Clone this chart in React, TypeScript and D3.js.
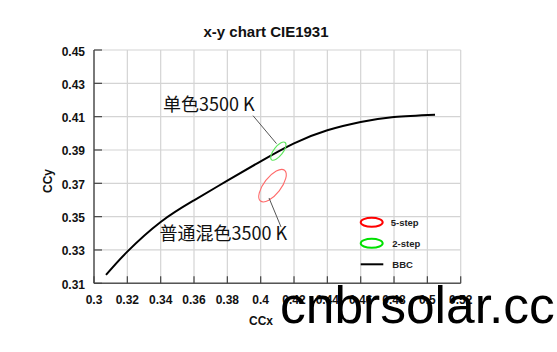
import React from "react";
import * as d3 from "d3";

// ---- data ----
const bbcX = [0.3072, 0.32, 0.34, 0.36, 0.38, 0.40, 0.42, 0.44, 0.46, 0.48, 0.5046];
const bbcY = [0.315, 0.3290, 0.3468, 0.3598, 0.3716, 0.3832, 0.3940, 0.4018, 0.4068, 0.4098, 0.4112];

const xTickValues = [0.3, 0.32, 0.34, 0.36, 0.38, 0.4, 0.42, 0.44, 0.46, 0.48, 0.5, 0.52];
const xTickLabels = ["0.3", "0.32", "0.34", "0.36", "0.38", "0.4", "0.42", "0.44", "0.46", "0.48", "0.5", "0.52"];
const yTickValues = [0.31, 0.33, 0.35, 0.37, 0.39, 0.41, 0.43, 0.45];
const yTickLabels = ["0.31", "0.33", "0.35", "0.37", "0.39", "0.41", "0.43", "0.45"];

// ellipses: centre and semi-axes in chart units
const ellipseNames = ["5-step", "2-step"];
const ellipseCx = [0.4071, 0.4106];
const ellipseCy = [0.3686, 0.3893];
const ellipseA = [0.0117, 0.0066];
const ellipseB = [0.0051, 0.0027];

// annotations
const annoText = ["普通混色3500 K", "单色3500 K"];
const annoTextX = [0.3393, 0.3414];
const annoTextY = [0.3359, 0.4133];
const annoLineX1 = [0.405, 0.4095];
const annoLineY1 = [0.3612, 0.3938];
const annoLineX2 = [0.4122, 0.3954];
const annoLineY2 = [0.3438, 0.4106];

const legendLabels = ["5-step", "2-step", "BBC"];

const W = 557;
const H = 352;
const L = 94, R = 460.7, T = 50, B = 283.3;

export default function App() {
  const x = d3.scaleLinear().domain([0.3, 0.52]).range([L, R]);
  const y = d3.scaleLinear().domain([0.31, 0.45]).range([B, T]);
  const pts: [number, number][] = bbcX.map((v, i) => [v, bbcY[i]]);
  const line = d3
    .line<[number, number]>()
    .x((d) => x(d[0]))
    .y((d) => y(d[1]))
    .curve(d3.curveNatural);
  const pxPerUnit = (R - L) / 0.22;
  const ellColors = ["#ff6a6a", "#5ee65e"];
  const legColors = ["#ff0000", "#00e000"];
  const bold = "'Liberation Sans', Arial, sans-serif";
  const rot = -52;

  return (
    <svg
      width={W}
      height={H}
      style={{ position: "absolute", left: 0, top: 0, background: "#fff" }}
      fontFamily={bold}
    >
      <rect x={0} y={0} width={W} height={H} fill="#fff" />
      <text x={266} y={37} textAnchor="middle" fontSize={15} fontWeight="bold" fill="#111">
        x-y chart CIE1931
      </text>
      {/* grid */}
      {xTickValues.map((v, i) => (
        <line key={"gx" + i} x1={x(v)} x2={x(v)} y1={T} y2={B} stroke="#d4d4d4" strokeWidth={1.2} />
      ))}
      {yTickValues.map((v, i) => (
        <line key={"gy" + i} x1={L} x2={R} y1={y(v)} y2={y(v)} stroke="#d4d4d4" strokeWidth={1.2} />
      ))}
      {/* axes */}
      <line x1={L} x2={L} y1={T} y2={B} stroke="#555" strokeWidth={1.5} />
      <line x1={L} x2={R} y1={B} y2={B} stroke="#555" strokeWidth={1.5} />
      {yTickValues.map((v, i) => (
        <line key={"ty" + i} x1={L} x2={L + 8} y1={y(v)} y2={y(v)} stroke="#444" strokeWidth={1.2} />
      ))}
      {xTickValues.map((v, i) => (
        <line key={"tx" + i} x1={x(v)} x2={x(v)} y1={B} y2={B - 7} stroke="#444" strokeWidth={1.2} />
      ))}
      {yTickValues.map((v, i) => (
        <text key={"ly" + i} x={85} y={y(v) + 5.5} textAnchor="end" fontSize={12} fontWeight="bold" fill="#111">
          {yTickLabels[i]}
        </text>
      ))}
      {xTickValues.map((v, i) => (
        <text key={"lx" + i} x={x(v)} y={303.5} textAnchor="middle" fontSize={12} fontWeight="bold" fill="#111">
          {xTickLabels[i]}
        </text>
      ))}
      <text x={261} y={325} textAnchor="middle" fontSize={12} fontWeight="bold" fill="#111">
        CCx
      </text>
      <text
        transform={`translate(52,181) rotate(-90)`}
        textAnchor="middle"
        fontSize={12}
        fontWeight="bold"
        fill="#111"
      >
        CCy
      </text>
      {/* BBC curve */}
      <path d={line(pts) || ""} fill="none" stroke="#000" strokeWidth={2} />
      {/* ellipses */}
      {ellipseNames.map((n, i) => (
        <ellipse
          key={"e" + i}
          cx={0}
          cy={0}
          rx={ellipseA[i] * pxPerUnit}
          ry={ellipseB[i] * pxPerUnit}
          transform={`translate(${x(ellipseCx[i])},${y(ellipseCy[i])}) rotate(${rot})`}
          fill="none"
          stroke={ellColors[i]}
          strokeWidth={1.1}
        />
      ))}
      {/* annotations */}
      {annoText.map((t, i) => (
        <g key={"a" + i}>
          <line
            x1={x(annoLineX1[i])}
            y1={y(annoLineY1[i])}
            x2={x(annoLineX2[i])}
            y2={y(annoLineY2[i])}
            stroke="#555"
            strokeWidth={1}
          />
          <text
            x={x(annoTextX[i])}
            y={y(annoTextY[i])}
            fontSize={18}
            fontFamily="'Noto Sans CJK SC', sans-serif"
            fill="#111"
          >
            {t}
          </text>
        </g>
      ))}
      {/* legend */}
      {legendLabels.map((t, i) => (
        <g key={"lg" + i} transform={`translate(0,${222.3 + i * 21})`}>
          {i < 2 ? (
            <ellipse cx={371.7} cy={0} rx={11} ry={4.5} fill="none" stroke={legColors[i]} strokeWidth={2} />
          ) : (
            <line x1={360.7} x2={383.3} y1={0} y2={0} stroke="#000" strokeWidth={2} />
          )}
          <text x={i === 0 ? 390.7 : 392.3} y={3.3} fontSize={9.5} fontWeight="bold" fill="#222">
            {t}
          </text>
        </g>
      ))}
      {/* watermark */}
      <text x={280} y={322.5} fontSize={51.5} fill="#000" fontFamily="'Liberation Sans', Arial, sans-serif">
        cnbrsolar.cc
      </text>
    </svg>
  );
}
